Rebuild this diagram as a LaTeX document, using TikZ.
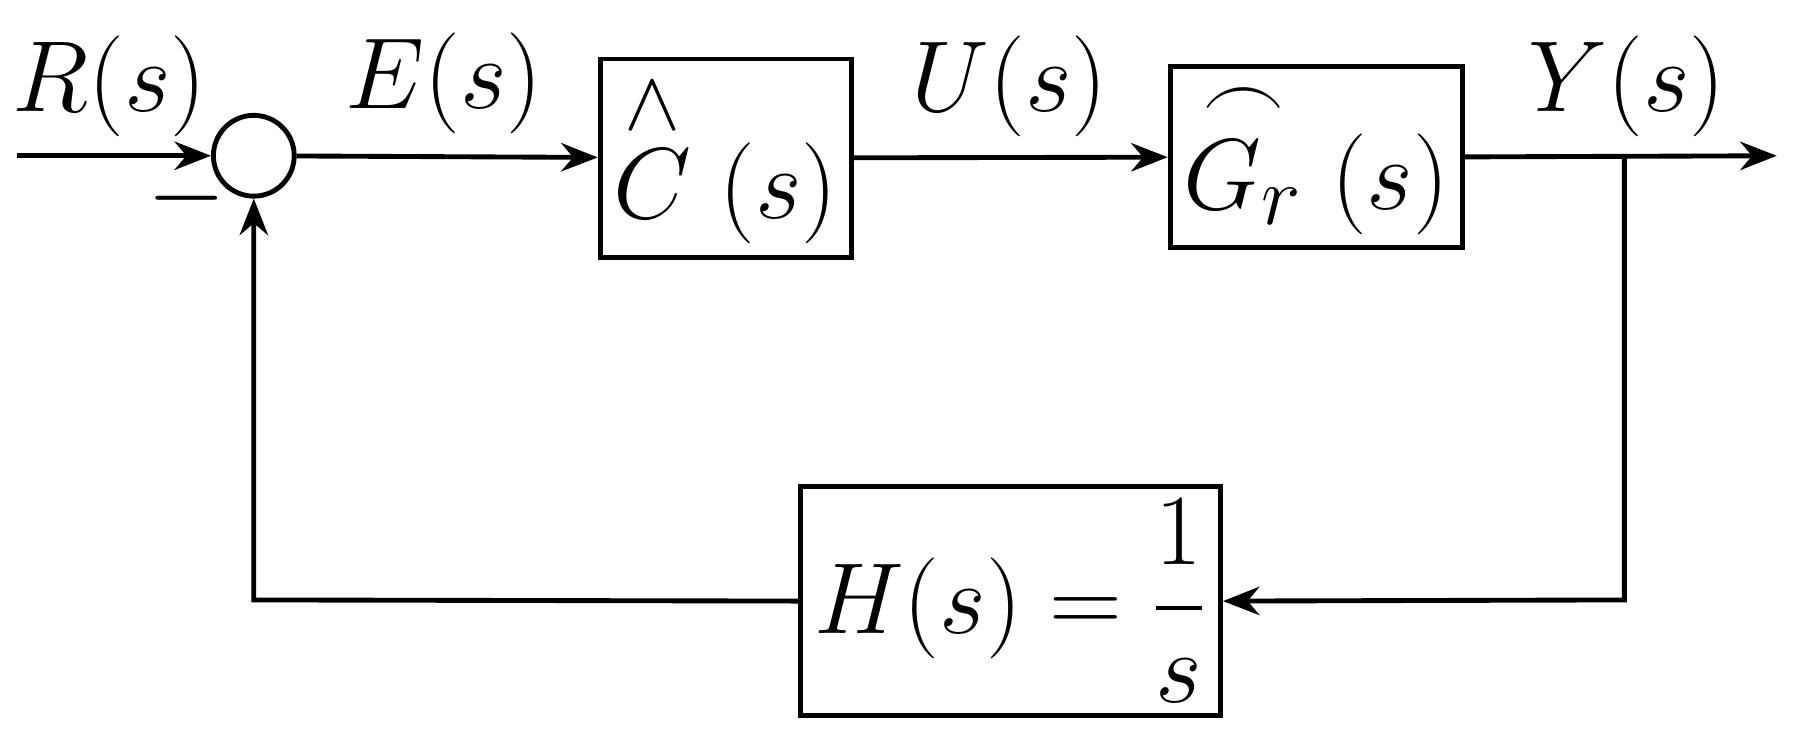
\documentclass[tikz,border=0pt]{standalone}
\usepackage{amsmath}
\usetikzlibrary{arrows.meta}
\begin{document}
\begin{tikzpicture}[x=0.01cm,y=-0.01cm,line width=1.2pt,
  lbl/.style={font=\Huge},
  arr/.style={-{Stealth[length=9pt,width=7pt]}}]
\useasboundingbox (0,0) rectangle (1568,645);
\node[draw,circle,minimum size=0.7cm,inner sep=0pt] (sum) at (220,135) {};
\node[draw,minimum width=2.1cm,minimum height=1.63cm,font=\Huge] (C) at (629,137) {$\overset{\wedge}{C}\;(s)$};
\node[draw,minimum width=2.43cm,minimum height=1.52cm,font=\Huge] (G) at (1141,136) {$\overset{\frown}{G_r}\;(s)$};
\node[draw,minimum width=3.57cm,minimum height=1.98cm,font=\Huge] (H) at (876,521) {$H(s)=\dfrac{1}{s}$};
\coordinate (in) at (15,135);
\coordinate (out) at (1540,135);
\coordinate (br) at (1408,135);
\coordinate (bd) at (1408,520);
\coordinate (bl) at (220,520);
\draw[arr] (in) -- (sum);
\draw[arr] (sum) -- (C);
\draw[arr] (C) -- (G);
\draw[arr] (G.east) -- (out);
\draw[arr] (br) -- (bd) -- (H.east);
\draw[arr] (H.west) -- (bl) -- (sum.south);
\node[lbl] (rl) at (95,75) {$R(s)$};
\node[lbl] (el) at (385,72) {$E(s)$};
\node[lbl] (ul) at (875,75) {$U(s)$};
\node[lbl] (yl) at (1410,75) {$Y(s)$};
\node[lbl] (mn) at (162,172) {$-$};
\end{tikzpicture}
\end{document}
